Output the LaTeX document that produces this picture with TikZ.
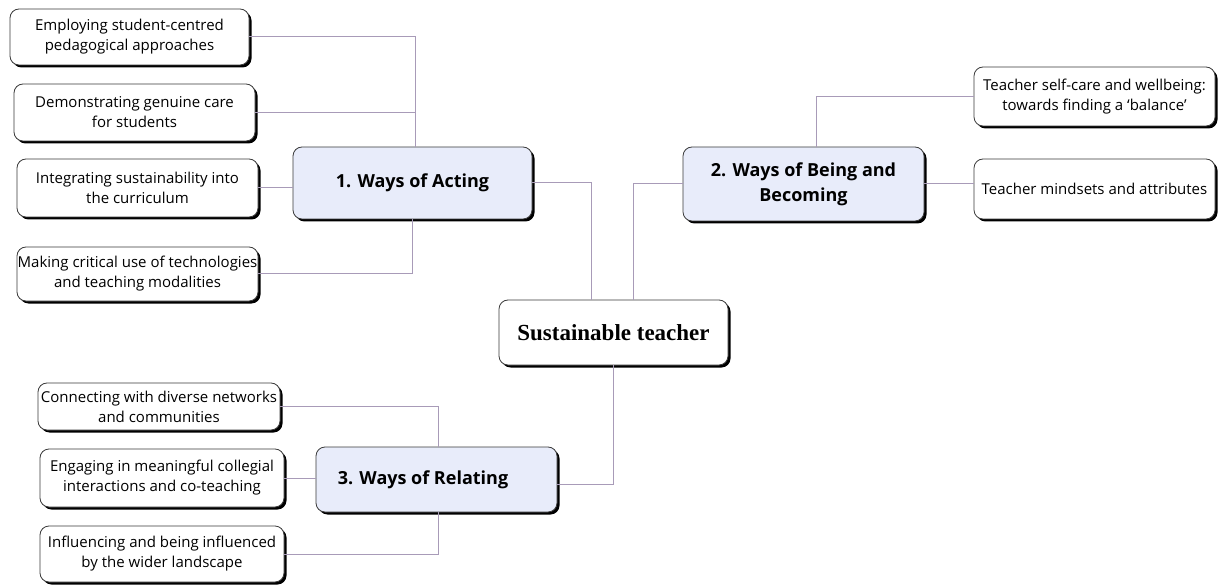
\documentclass[tikz,border=0pt]{standalone}
\usepackage{fontspec}
\setmainfont{Open Sans}
\newfontfamily\corefont{Liberation Serif}
\usetikzlibrary{positioning, shadows, calc}
\definecolor{linkgray}{HTML}{A89BB8}
\definecolor{themefill}{HTML}{E8ECFA}
\definecolor{boxedge}{HTML}{3A3A3A}

\tikzset{
  leafbox/.style={draw=boxedge, fill=white, rounded corners=9pt, line width=0.8pt,
    font=\fontsize{15}{20}\selectfont, align=center, inner sep=0pt,
    drop shadow={shadow xshift=2.5pt, shadow yshift=-2.5pt, fill=black, opacity=1}},
  themebox/.style={leafbox, fill=themefill, font=\fontsize{18}{25}\selectfont\bfseries},
  corebox/.style={leafbox, font=\fontsize{23}{26}\selectfont\corefont\bfseries},
  link/.style={draw=linkgray, line width=1pt}
}

\begin{document}
\begin{tikzpicture}[x=1pt, y=-1pt]
        \useasboundingbox (0,0) rectangle (1223,585);
        % core and themes
        \node[corebox, minimum width=229pt, minimum height=65pt] (core) at (613.5,332.5) {Sustainable teacher};
        \node[themebox, minimum width=239pt, minimum height=72pt] (acting) at (412.5,183) {1. Ways of Acting};
        \node[themebox, minimum width=241pt, minimum height=74pt] (being) at (803.5,184) {2. Ways of Being and\\Becoming};
        \node[themebox, minimum width=241pt, minimum height=65pt] (relating) at (436.5,479.5) {3. Ways of Relating\hspace{27pt}};
        % acting leaves
        \node[leafbox, minimum width=239pt, minimum height=56pt] (act1) at (129.5,37) {Employing student-centred\\pedagogical approaches};
        \node[leafbox, minimum width=241pt, minimum height=57pt] (act2) at (134.5,112.5) {Demonstrating genuine care\\for students};
        \node[leafbox, minimum width=241pt, minimum height=58pt] (act3) at (137.5,188) {Integrating sustainability into\\the curriculum};
        \node[leafbox, minimum width=241pt, minimum height=54pt] (act4) at (137.5,274) {Making critical use of technologies\\and teaching modalities};
        % being leaves
        \node[leafbox, minimum width=241pt, minimum height=59pt] (being1) at (1094.5,96.5) {Teacher self-care and wellbeing:\\towards finding a ‘balance’};
        \node[leafbox, minimum width=241pt, minimum height=60pt] (being2) at (1094.5,189) {Teacher mindsets and attributes};
        % relating leaves
        \node[leafbox, minimum width=242pt, minimum height=47pt] (rel1) at (159,406.5) {Connecting with diverse networks\\and communities};
        \node[leafbox, minimum width=244pt, minimum height=58pt] (rel2) at (162,478) {Engaging in meaningful collegial\\interactions and co-teaching};
        \node[leafbox, minimum width=244pt, minimum height=56pt] (rel3) at (162,554) {Influencing and being influenced\\by the wider landscape};

        % connectors
        \draw[link] (act1.east) -| ($(acting.north)+(3,0)$);
        \draw[link] (act2.east) -- (act2.east -| {$(acting.north)+(3,0)$});
        \draw[link] (act3.east) -- (act3.east -| acting.west);
        \draw[link] (act4.east) -| (acting.south);
        \draw[link] (acting.east) -| ($(core.north)+(-22,0)$);
        \draw[link] ($(core.north)+(20,0)$) |- (being.west);
        \draw[link] (being1.west) -| ($(being.north)+(13,0)$);
        \draw[link] (being.east) -- (being.east -| being2.west);
        \draw[link] (core.south) |- ($(relating.east)+(0,5)$);
        \draw[link] (rel1.east) -| ($(relating.north)+(2,0)$);
        \draw[link] (rel2.east) -- (rel2.east -| relating.west);
        \draw[link] (rel3.east) -| ($(relating.south)+(2,0)$);
      \end{tikzpicture}
\end{document}
